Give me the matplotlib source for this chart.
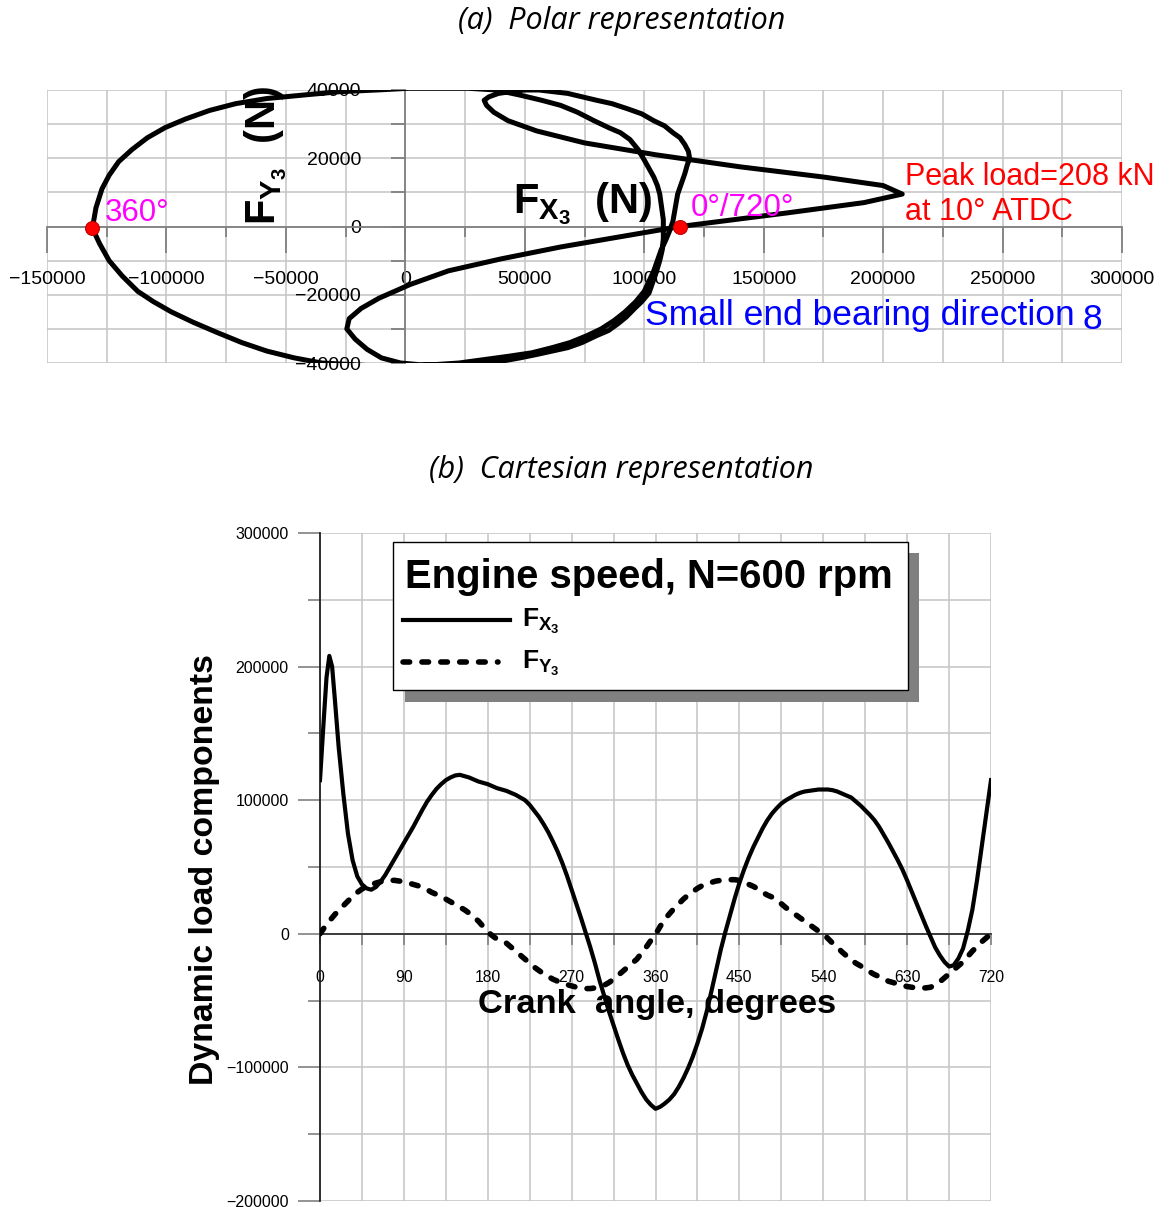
import numpy as np
import matplotlib.pyplot as plt
from matplotlib.patches import Rectangle
from matplotlib.lines import Line2D
from matplotlib.ticker import MultipleLocator, NullFormatter

plt.rcParams['font.family'] = ['Liberation Sans', 'DejaVu Sans']
plt.rcParams['mathtext.fontset'] = 'custom'
plt.rcParams['mathtext.rm'] = 'Liberation Sans'
plt.rcParams['mathtext.bf'] = 'Liberation Sans:bold'
plt.rcParams['mathtext.it'] = 'Liberation Sans:italic'

# crank angle (deg) and small end bearing load components (N)
crank_angle = [0, 4, 7, 10, 13, 16, 20, 25, 30, 35, 40, 45, 50, 55, 60, 65, 70,
               75, 80, 85, 90, 95, 100, 105, 110, 115, 120, 125, 130, 135, 140,
               145, 150, 155, 160, 165, 170, 175, 180, 185, 190, 195, 200, 205,
               210, 215, 220, 225, 230, 235, 240, 245, 250, 255, 260, 265, 270,
               275, 280, 285, 290, 295, 300, 305, 310, 315, 320, 325, 330, 335,
               340, 345, 350, 355, 360, 365, 370, 375, 380, 385, 390, 395, 400,
               405, 410, 415, 420, 425, 430, 435, 440, 445, 450, 455, 460, 465,
               470, 475, 480, 485, 490, 495, 500, 505, 510, 515, 520, 525, 530,
               535, 540, 545, 550, 555, 560, 565, 570, 575, 580, 585, 590, 595,
               600, 605, 610, 615, 620, 625, 630, 635, 640, 645, 650, 655, 660,
               665, 670, 675, 680, 685, 690, 695, 700, 705, 710, 715, 720]
fx3 = [115000, 160000, 192000, 208000, 200000, 175000, 140000, 105000, 75000,
       55000, 43000, 37000, 34000, 33000, 35000, 39000, 44000,
       50000, 56000, 62000, 68000, 74000, 80000, 86500, 93000, 99000, 104000,
       108500, 112000, 115000, 117000,
       118500, 119000, 118000, 117000, 115500, 114000, 113000, 112000, 110500,
       109000, 108000, 107000, 105500,
       104000, 102000, 100000, 96500, 92000, 87500, 82000, 76000, 69000, 61500,
       53000, 43500, 33000,
       22500, 12000, 1000, -10000, -22000, -35000, -46500, -58000, -68500,
       -79000, -89000, -98000, -105500,
       -112000, -118500, -124000, -128000, -131000, -129500, -127000, -124000,
       -120000, -114500, -108000, -100500, -92000,
       -82000, -71000, -58000, -43000, -27500, -12000, 1500, 14000, 26500,
       38000, 48000, 57000, 65000,
       72000, 79000, 85000, 90000, 94000, 97500, 100000, 102000, 104000, 105500,
       106500, 107000, 107500,
       108000, 108000, 108000, 107500, 106500, 105000, 103500, 102000, 99000,
       96000, 92500, 89000, 85000,
       80000, 74000, 68000, 61500, 55000, 48000, 40000, 31500, 23000, 14500,
       6000, -2000, -10000,
       -16000, -21000, -24500, -23500, -18500, -11000, 2000, 18000, 40000,
       65000, 90000, 115000]
fy3 = [0, 4000, 7000, 9500, 12000, 14500, 17500, 21000, 24500, 28000, 31000,
       33500, 35500, 37000, 38000, 39000, 39500,
       40000, 40000, 39500, 39000, 38000, 37000, 36000, 34500, 33000, 31000,
       29500, 27500, 26000, 24000,
       22000, 20000, 18000, 15500, 12500, 9500, 5500, 1500, -1500, -4000,
       -5500, -7000, -10000,
       -13000, -16000, -19000, -22000, -25000, -27500, -30000, -32000, -34000,
       -35500, -37000, -38000, -39000,
       -40000, -40500, -41000, -41000, -40500, -40000, -38500, -36500, -34000,
       -31000, -28000, -25000, -22000,
       -19000, -14500, -10000, -5000, -500, 5500, 11000, 15000, 19000, 22500,
       26000, 29000, 31500,
       34000, 36000, 37500, 38500, 39500, 40000, 40500, 40500, 40500, 40000,
       38500, 37000, 35500,
       33500, 31000, 29000, 27500, 25500, 22500, 19500, 17000, 14500, 12000,
       9500, 7000, 4500,
       2000, 0, -3500, -7000, -10000, -13500, -16500, -19500, -22000, -24000,
       -26500, -28500, -30500,
       -32000, -34000, -35500, -36500, -37500, -38500, -39500, -40000, -40500,
       -40500, -40500, -40000, -38500,
       -36000, -33000, -30000, -27000, -24000, -21000, -17000, -13000, -9500,
       -6000, -3000, 0]
marked_angles = [0, 360]

GRID = '#c4c4c4'
AXIS = '#808080'
DASH = (0, (1.2, 2.2))

fig = plt.figure(figsize=(11.7, 12.07), dpi=100)

title_font = dict(family=['Open Sans', 'DejaVu Sans'], style='italic', fontsize=22)
fig.text(0.531, 0.983, '(a)  Polar representation', ha='center', va='center', **title_font)
fig.text(0.531, 0.611, '(b)  Cartesian representation', ha='center', va='center', **title_font)

# ---------------- (a) polar ----------------
ax1 = fig.add_axes([47 / 1170, 1 - 363 / 1207, 1075 / 1170, 273 / 1207])
ax1.set_xlim(-150000, 300000)
ax1.set_ylim(-40000, 40000)
ax1.xaxis.set_major_locator(MultipleLocator(50000))
ax1.xaxis.set_minor_locator(MultipleLocator(25000))
ax1.yaxis.set_major_locator(MultipleLocator(20000))
ax1.yaxis.set_minor_locator(MultipleLocator(10000))
ax1.grid(which='both', color=GRID, lw=1.1)
ax1.set_axisbelow(True)
for s in ['top', 'right']:
    ax1.spines[s].set_visible(False)
ax1.spines['left'].set_position(('data', 0))
ax1.spines['bottom'].set_position(('data', 0))
for s in ['left', 'bottom']:
    ax1.spines[s].set_color(AXIS)
    ax1.spines[s].set_linewidth(1.3)
ax1.tick_params(axis='x', which='major', direction='out', length=19, width=1.3,
                color=AXIS, pad=13, labelsize=14)
ax1.tick_params(axis='x', which='minor', direction='out', length=7, width=1.3, color=AXIS)
ax1.tick_params(axis='y', which='both', direction='out', length=10, width=1.3,
                color=AXIS, pad=22, labelsize=14)
ax1.xaxis.set_minor_formatter(NullFormatter())
ax1.yaxis.set_minor_formatter(NullFormatter())

ax1.plot(fx3, fy3, color='black', lw=3.6, solid_joinstyle='round', zorder=4)
idx = [crank_angle.index(a) for a in marked_angles]
ax1.plot([fx3[i] for i in idx], [fy3[i] for i in idx], 'o', color='red',
         markersize=10, markeredgecolor='#c00000', markeredgewidth=0.8, zorder=5)

fig.text(0.2274, 0.8716, r'$\mathbf{F_{Y_{3}}}$  (N)', rotation=90, ha='center',
         va='center', fontsize=30, fontweight='bold', zorder=3)
fig.text(0.4385, 1 - 213 / 1207, r'$\mathbf{F_{X_{3}}}$  (N)', ha='left',
         va='baseline', fontsize=30, fontweight='bold', zorder=3)

ax1.text(-126000, 1500, '360°', color='#ff00ff', fontsize=22.5, va='baseline', zorder=6)
ax1.text(119500, 3200, '0°/720°', color='#ff00ff', fontsize=22.5, va='baseline', zorder=6)
ax1.text(209000, 12300, 'Peak load=208 kN', color='red', fontsize=22, va='baseline', zorder=6)
ax1.text(209000, 1800, 'at 10° ATDC', color='red', fontsize=22, va='baseline', zorder=6)
ax1.text(100300, -29000, 'Small end bearing direction', color='blue', fontsize=25.5,
         va='baseline', zorder=6)
ax1.text(283400, -30000, '8', color='blue', fontsize=25.5, va='baseline', zorder=6)

# ---------------- (b) cartesian ----------------
ax2 = fig.add_axes([320 / 1170, 1 - 1201 / 1207, 671 / 1170, 668 / 1207])
ax2.set_xlim(0, 720)
ax2.set_ylim(-200000, 300000)
ax2.xaxis.set_major_locator(MultipleLocator(90))
ax2.xaxis.set_minor_locator(MultipleLocator(45))
ax2.yaxis.set_major_locator(MultipleLocator(100000))
ax2.yaxis.set_minor_locator(MultipleLocator(50000))
ax2.grid(which='both', color=GRID, lw=1.1)
ax2.set_axisbelow(True)
for s in ['top', 'right']:
    ax2.spines[s].set_visible(False)
ax2.spines['bottom'].set_position(('data', 0))
ax2.spines['bottom'].set_color('#303030')
ax2.spines['left'].set_color('#202020')
for s in ['left', 'bottom']:
    ax2.spines[s].set_linewidth(1.3)
ax2.tick_params(axis='x', which='both', direction='out', length=8, width=1.2,
                color=AXIS, pad=18, labelsize=11.3)
ax2.tick_params(axis='y', which='major', direction='out', length=15.5, width=1.2,
                color=AXIS, pad=7, labelsize=11.5)
ax2.tick_params(axis='y', which='minor', direction='out', length=8.5, width=1.2, color=AXIS)
ax2.xaxis.set_minor_formatter(NullFormatter())
ax2.yaxis.set_minor_formatter(NullFormatter())

ax2.plot(crank_angle, fx3, color='black', lw=3.0, solid_joinstyle='round', zorder=3)
ax2.plot(crank_angle, fy3, color='black', lw=4.0, linestyle=DASH,
         dash_capstyle='round', zorder=3)

fig.text(657 / 1170, 1 - 1005 / 1207, 'Crank  angle, degrees', ha='center', va='center',
         fontsize=24.8, fontweight='bold', zorder=6)
fig.text(205 / 1170, 1 - 870 / 1207, 'Dynamic load components', rotation=90, ha='center',
         va='center', fontsize=24.4, fontweight='bold')

# legend box with drop shadow
ax2.add_patch(Rectangle((0.1267, 0.747), 0.766, 0.223, transform=ax2.transAxes,
                        facecolor='#808080', edgecolor='none', zorder=5))
ax2.add_patch(Rectangle((0.1088, 0.765), 0.7675, 0.2215, transform=ax2.transAxes,
                        facecolor='white', edgecolor='black', lw=1.0, zorder=6))
ax2.text(0.1267, 0.934, 'Engine speed, N=600 rpm', transform=ax2.transAxes,
         fontsize=28.8, fontweight='bold', va='center', ha='left', zorder=7)
ax2.add_line(Line2D([0.1237, 0.2832], [0.8698, 0.8698], transform=ax2.transAxes,
                    color='black', lw=3.0, zorder=7))
ax2.add_line(Line2D([0.1237, 0.2653], [0.8069, 0.8069], transform=ax2.transAxes,
                    color='black', lw=4.0, linestyle=DASH,
                    dash_capstyle='round', zorder=7))
ax2.text(0.301, 0.8593, r'$\mathbf{F_{X_{3}}}$', transform=ax2.transAxes,
         fontsize=19, va='baseline', ha='left', zorder=7)
ax2.text(0.301, 0.7964, r'$\mathbf{F_{Y_{3}}}$', transform=ax2.transAxes,
         fontsize=19, va='baseline', ha='left', zorder=7)

fig.savefig('out.png', dpi=100)
